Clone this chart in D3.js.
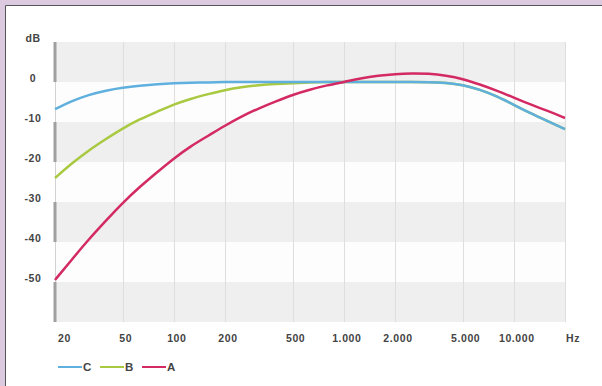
<!DOCTYPE html>
<html>
<head>
<meta charset="utf-8">
<script src="https://cdn.jsdelivr.net/npm/d3@7"></script>
<style>
  html, body { margin: 0; padding: 0; background: #fff; overflow: hidden; }
  svg { display: block; }
  text { font-family: "Liberation Sans", Arial, sans-serif; font-size: 10.5px; font-weight: bold; fill: #444; letter-spacing: 0.6px; }
</style>
</head>
<body>
<svg id="chart" width="602" height="386"></svg>
<script>
// frequencies (Hz) and weighting values (dB)
var freqs = [20, 25, 31.5, 40, 50, 63, 80, 100, 125, 160, 200, 250, 315, 400, 500, 630,
             800, 1000, 1250, 1600, 2000, 2500, 3150, 4000, 5000, 6300, 8000, 10000, 12500, 16000, 20000];
var curveA = [-49.5, -44.5, -39.4, -34.6, -30.2, -26.2, -22.5, -19.1, -16.1, -13.4, -10.9, -8.6, -6.6, -4.8, -3.2, -1.9,
              -0.8, 0, 0.9, 1.6, 2.0, 2.2, 2.1, 1.6, 0.8, -0.6, -2.2, -3.9, -5.6, -7.3, -9.0];
var curveB = [-24, -20.4, -17.1, -14.2, -11.6, -9.3, -7.4, -5.6, -4.2, -3.0, -2.0, -1.3, -0.8, -0.5, -0.3, -0.1,
              0, 0, 0, 0, 0, 0, 0, -0.2, -0.7, -1.9, -3.6, -5.7, -7.8, -9.9, -11.8];
var curveC = [-6.8, -4.8, -3.2, -2.1, -1.4, -0.9, -0.5, -0.3, -0.2, -0.1, 0, 0, 0, 0, 0, 0,
              0, 0, 0, 0, 0, 0, 0, -0.2, -0.7, -1.9, -3.6, -5.7, -7.8, -9.9, -11.8];

var xTicks = [20, 50, 100, 200, 500, 1000, 2000, 5000, 10000];
var xTickLabels = ["20", "50", "100", "200", "500", "1.000", "2.000", "5.000", "10.000"];
var yTicks = [10, 0, -10, -20, -30, -40, -50];
var yTickLabels = ["dB", "0", "-10", "-20", "-30", "-40", "-50"];

var series = [
  {name: "B", values: curveB, color: "#a9c941"},
  {name: "C", values: curveC, color: "#5fb0de"},
  {name: "A", values: curveA, color: "#d42a63"}
];
var legendOrder = ["C", "B", "A"];

var svg = d3.select("#chart");

// lavender frame on the top and left, dark edge of the panel
svg.append("rect").attr("x", 0).attr("y", 0).attr("width", 602).attr("height", 5).attr("fill", "#dccbe0");
svg.append("rect").attr("x", 0).attr("y", 0).attr("width", 5).attr("height", 386).attr("fill", "#dccbe0");
svg.append("path")
    .attr("d", "M5.5,386V5.5H602")
    .attr("fill", "none")
    .attr("stroke", "#555");

var x = d3.scaleLog().domain([20, 20000]).range([55, 565]),
    y = d3.scaleLinear().domain([-60, 10]).range([322, 42]);

// alternating horizontal bands
var bands = d3.range(10, -60, -10);
svg.selectAll(".band")
  .data(bands)
  .enter().append("rect")
    .attr("class", "band")
    .attr("x", x(20))
    .attr("y", function(d) { return y(d); })
    .attr("width", x(20000) - x(20))
    .attr("height", function(d) { return y(d - 10) - y(d); })
    .attr("fill", function(d, i) { return i % 2 === 0 ? "#efefef" : "#fdfdfd"; });

// vertical grid
svg.selectAll(".vgrid")
  .data(xTicks.slice(1).concat([20000]))
  .enter().append("line")
    .attr("class", "vgrid")
    .attr("x1", function(d) { return Math.round(x(d)) + 0.5; })
    .attr("x2", function(d) { return Math.round(x(d)) + 0.5; })
    .attr("y1", y(10)).attr("y2", y(-60))
    .attr("stroke", "#dedede")
    .attr("stroke-width", 1);

// left axis line with thicker marks on the shaded bands
svg.append("line")
    .attr("x1", x(20) + 0.5).attr("x2", x(20) + 0.5)
    .attr("y1", y(10)).attr("y2", y(-60))
    .attr("stroke", "#d2d2d2");
svg.selectAll(".lbar")
  .data(bands.filter(function(d, i) { return i % 2 === 0; }))
  .enter().append("rect")
    .attr("class", "lbar")
    .attr("x", x(20) - 1.5)
    .attr("y", function(d) { return y(d); })
    .attr("width", 3)
    .attr("height", function(d) { return y(d - 10) - y(d); })
    .attr("fill", "#a0a0a0");

// y labels
svg.selectAll(".ylab")
  .data(yTicks)
  .enter().append("text")
    .attr("class", "ylab")
    .attr("x", 33)
    .attr("y", function(d) { return y(d) - 4; })
    .attr("dy", "0.35em")
    .attr("text-anchor", "middle")
    .text(function(d, i) { return yTickLabels[i]; });

// x labels
svg.selectAll(".xlab")
  .data(xTicks)
  .enter().append("text")
    .attr("class", "xlab")
    .attr("x", function(d) { return x(d) + 3; })
    .attr("y", 338)
    .attr("dy", "0.35em")
    .attr("text-anchor", function(d, i) { return i === 0 ? "start" : "middle"; })
    .text(function(d, i) { return xTickLabels[i]; });
svg.append("text")
    .attr("x", 573).attr("y", 338).attr("dy", "0.35em")
    .attr("text-anchor", "middle")
    .text("Hz");

// curves
var line = d3.line()
    .x(function(d) { return x(d[0]); })
    .y(function(d) { return y(d[1]); })
    .curve(d3.curveBasis);

svg.selectAll(".curve")
  .data(series)
  .enter().append("path")
    .attr("class", "curve")
    .attr("d", function(s) { return line(freqs.map(function(f, i) { return [f, s.values[i]]; })); })
    .attr("fill", "none")
    .attr("stroke", function(s) { return s.color; })
    .attr("stroke-width", 2.5);

// legend
var leg = svg.selectAll(".leg")
  .data(legendOrder.map(function(n) { return series.find(function(s) { return s.name === n; }); }))
  .enter().append("g")
    .attr("class", "leg")
    .attr("transform", function(d, i) { return "translate(" + (58 + i * 42) + ",367)"; });
leg.append("line")
    .attr("x1", 0).attr("x2", 24)
    .attr("stroke", function(d) { return d.color; })
    .attr("stroke-width", 2);
leg.append("text")
    .attr("x", 25).attr("dy", "0.35em")
    .style("font-size", "11.5px")
    .text(function(d) { return d.name; });
</script>
</body>
</html>
